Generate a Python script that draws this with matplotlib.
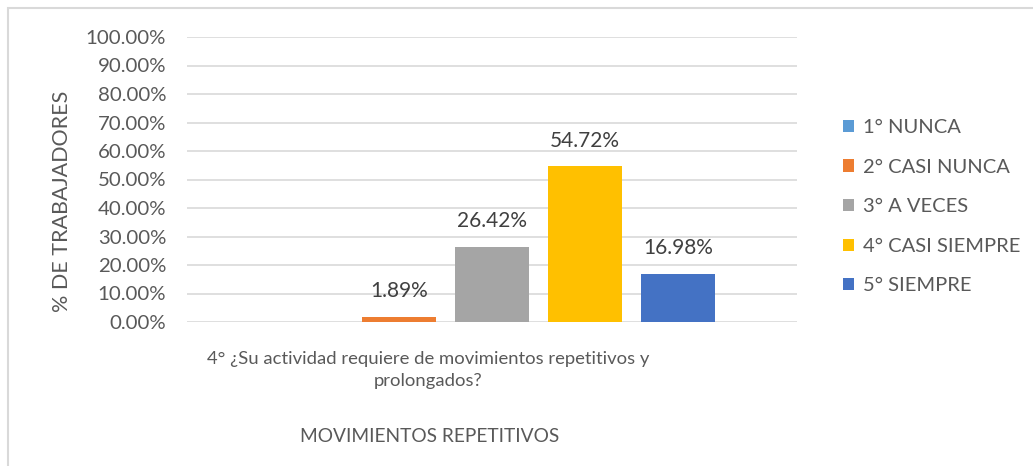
import numpy as np
import matplotlib.pyplot as plt
from matplotlib.patches import Rectangle

plt.rcParams['font.family'] = ['Lato', 'DejaVu Sans']

## Données
categorias = ["1° NUNCA", "2° CASI NUNCA", "3° A VECES", "4° CASI SIEMPRE", "5° SIEMPRE"]
porcentajes = [0.0, 1.89, 26.42, 54.72, 16.98]
colores = ["#5B9BD5", "#ED7D31", "#A5A5A5", "#FFC000", "#4472C4"]
pregunta = "4° ¿Su actividad requiere de movimientos repetitivos y\nprolongados?"
titulo_x = "MOVIMIENTOS REPETITIVOS"
titulo_y = "% DE TRABAJADORES"

gris_texto = "#595959"

fig = plt.figure(figsize=(10.33, 4.66), dpi=100)
ax = fig.add_axes([187/1033, 1-322/466, 610/1033, 285/466])

# cadre du graphique (ouvert à droite et en bas)
fig.patches.append(Rectangle((8/1033, -0.05), 1.1, 1-7.5/466+0.05,
                             transform=fig.transFigure, fill=False,
                             edgecolor="#D9D9D9", linewidth=1.5))

x = np.arange(len(categorias))
barres = ax.bar(x, porcentajes, width=0.8, color=colores, label=categorias, zorder=3)

for xi, v in zip(x, porcentajes):
    if v > 0:
        ax.annotate(f"{v:.2f}%", (xi, v), xytext=(0, 11), textcoords="offset points",
                    ha="center", va="bottom", fontsize=15, color="#404040")

ax.set_xlim(-1.28, 5.28)
ax.set_ylim(0, 100)
ax.set_yticks(np.arange(0, 101, 10))
ax.set_yticklabels([f"{t:.2f}%" for t in np.arange(0, 101, 10)])
ax.tick_params(axis="y", length=0, labelsize=14.7, labelcolor=gris_texto, pad=15)
ax.set_xticks([])
ax.grid(axis="y", color="#D9D9D9", linewidth=1.2, zorder=0)
for s in ax.spines.values():
    s.set_visible(False)

fig.text(428/1033, 1-370/466, pregunta, ha="center", va="center",
         fontsize=13.3, color=gris_texto, linespacing=1.5)
fig.text(430/1033, 1-436/466, titulo_x, ha="center", va="center",
         fontsize=13.8, color=gris_texto)
fig.text(62/1033, 1-201/466, titulo_y, ha="center", va="center", rotation=90,
         fontsize=15.5, color=gris_texto)

leg = fig.legend(handles=barres, labels=categorias, loc="upper left",
                 bbox_to_anchor=(825/1033, 1-101/466), frameon=False,
                 fontsize=14.5, handlelength=0.55, handleheight=0.55,
                 handletextpad=0.45, labelspacing=1.12, labelcolor=gris_texto)

fig.savefig("out.png", dpi=100)
